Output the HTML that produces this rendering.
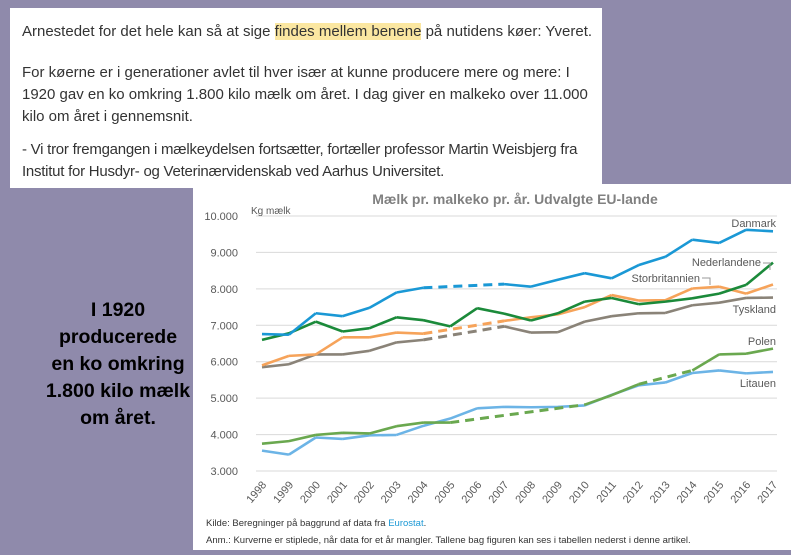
<!DOCTYPE html>
<html><head><meta charset="utf-8"><style>
body{margin:0;width:791px;height:550px;background:#8f8aab;position:relative;overflow:hidden;font-family:"Liberation Sans",sans-serif}
#textbox{position:absolute;left:10px;top:8px;width:592px;height:180px;background:#fff;color:#333;font-size:15px}
#textbox p{position:absolute;left:12px;margin:0;line-height:22px;width:578px}
.hl{background:#fbe7a1}
#side{position:absolute;left:18px;top:297px;width:200px;text-align:center;font-weight:bold;font-size:19.5px;line-height:27px;color:#000}
#chart{position:absolute;left:193px;top:184px;width:598px;height:366px;background:#fff}
</style></head><body>
<div id="textbox">
<p style="top:13px">Arnestedet for det hele kan så at sige <span class="hl">findes mellem benene</span> på nutidens køer: Yveret.</p>
<p style="top:54px">For køerne er i generationer avlet til hver især at kunne producere mere og mere: I 1920 gav en ko omkring 1.800 kilo mælk om året. I dag giver en malkeko over 11.000 kilo om året i gennemsnit.</p>
<p style="top:131px;letter-spacing:-0.25px">- Vi tror fremgangen i mælkeydelsen fortsætter, fortæller professor Martin Weisbjerg fra Institut for Husdyr- og Veterinærvidenskab ved Aarhus Universitet.</p>
</div>
<div id="side">I 1920<br>producerede<br>en ko omkring<br>1.800 kilo mælk<br>om året.</div>
<div id="chart">
<svg id="svg" width="598" height="366" xmlns="http://www.w3.org/2000/svg" font-family="Liberation Sans, sans-serif"></svg>
</div>
<script>
const years=[1998,1999,2000,2001,2002,2003,2004,2005,2006,2007,2008,2009,2010,2011,2012,2013,2014,2015,2016,2017];
const yTicks=[3000,4000,5000,6000,7000,8000,9000,10000];
const danmark=[6760,6740,7330,7250,7480,7900,8030,null,null,8130,8060,8250,8430,8290,8650,8880,9350,9260,9620,9580];
const nederlandene=[6600,6780,7100,6830,6920,7220,7140,6970,7470,7320,7130,7330,7650,7750,7580,7650,7740,7870,8110,8720];
const storbritannien=[5900,6160,6200,6670,6670,6800,6770,null,null,7120,7220,7300,7500,7830,7680,7690,8010,8060,7870,8120];
const tyskland=[5850,5930,6200,6200,6300,6530,6600,null,null,6970,6800,6810,7100,7250,7330,7340,7550,7620,7750,7760];
const polen=[3750,3820,3990,4050,4030,4230,4330,4330,null,null,null,null,4820,5080,5380,null,5760,6200,6220,6360];
const litauen=[3560,3450,3920,3880,3980,3990,4240,4440,4720,4760,4750,4760,4800,5090,5350,5430,5690,5760,5680,5720];
const series=[
 {name:'litauen',data:litauen,color:'#6cb4e6'},
 {name:'polen',data:polen,color:'#6aa84f'},
 {name:'tyskland',data:tyskland,color:'#8a8378'},
 {name:'storbritannien',data:storbritannien,color:'#f6a35a'},
 {name:'nederlandene',data:nederlandene,color:'#1b8a3a'},
 {name:'danmark',data:danmark,color:'#1a98d5'}];
const svg=document.getElementById('svg');const NS='http://www.w3.org/2000/svg';
const X0=69,X1=580,Y0=287,Y1=32;
const xs=i=>X0+(X1-X0)*i/(years.length-1);
const ys=v=>Y0-(v-3000)/7000*(Y0-Y1);
function mk(t,a,p){const e=document.createElementNS(NS,t);for(const k in a)e.setAttribute(k,a[k]);(p||svg).appendChild(e);return e;}
yTicks.forEach(v=>{
 const l=mk('line',{x1:X0-6,x2:X1+4,y1:ys(v),y2:ys(v),stroke:'#d9d9d9','stroke-width':1});
 
 
 const t=mk('text',{x:45,y:ys(v)+4,'text-anchor':'end','font-size':11,fill:'#595959'});
 t.textContent=(v/1000).toFixed(3);
 
 
});
years.forEach((y,i)=>{
 const t=mk('text',{x:0,y:0,'text-anchor':'end','font-size':11,fill:'#595959',transform:`translate(${xs(i)+5},${Y0+14}) rotate(-50)`});
 t.textContent=y;
 
 
});
series.forEach(s=>{
 const g=mk('g',{});
 
 
 let solid='',prev=null;
 s.data.forEach((v,i)=>{
  if(v==null)return;
  if(prev!=null){
   const seg=`M${xs(prev)},${ys(s.data[prev])}L${xs(i)},${ys(v)}`;
   if(i-prev>1){const d=mk('path',{d:seg,stroke:s.color,'stroke-width':3,fill:'none','stroke-dasharray':'9,6'},g);
    
    }
   else solid+=seg;
  }
  prev=i;
 });
 const p=mk('path',{d:solid,stroke:s.color,'stroke-width':2.6,fill:'none','stroke-linejoin':'round'},g);
 
 
});
function txt(x,y,s,o,name){const t=mk('text',Object.assign({x:x,y:y,'font-size':11,fill:'#595959'},o||{}));t.textContent=s;return t;}
txt(322,20,'Mælk pr. malkeko pr. år. Udvalgte EU-lande',{'text-anchor':'middle','font-size':14,'font-weight':'bold',fill:'#808080'},'chart-title');
txt(58,30,'Kg mælk',{'font-size':10},'y-axis-title');
txt(583,43,'Danmark',{'text-anchor':'end'},'label-danmark');
txt(568,82,'Nederlandene',{'text-anchor':'end'},'label-nederlandene');
txt(507,98,'Storbritannien',{'text-anchor':'end'},'label-storbritannien');
txt(583,129,'Tyskland',{'text-anchor':'end'},'label-tyskland');
txt(583,161,'Polen',{'text-anchor':'end'},'label-polen');
txt(583,203,'Litauen',{'text-anchor':'end'},'label-litauen');
mk('path',{d:'M570,79H577V86',stroke:'#999',fill:'none','stroke-width':1});
mk('path',{d:'M509,94H517V101',stroke:'#999',fill:'none','stroke-width':1});
const f1=txt(13,342,'Kilde: Beregninger på baggrund af data fra ',{'font-size':9.5,fill:'#333'},'source-note');
const a=document.createElementNS(NS,'tspan');a.setAttribute('fill','#1a98d5');a.textContent='Eurostat';f1.appendChild(a);


f1.appendChild(document.createTextNode('.'));
txt(13,359,'Anm.: Kurverne er stiplede, når data for et år mangler. Tallene bag figuren kan ses i tabellen nederst i denne artikel.',{'font-size':9.5,fill:'#333'},'footnote');
</script>
</body></html>
